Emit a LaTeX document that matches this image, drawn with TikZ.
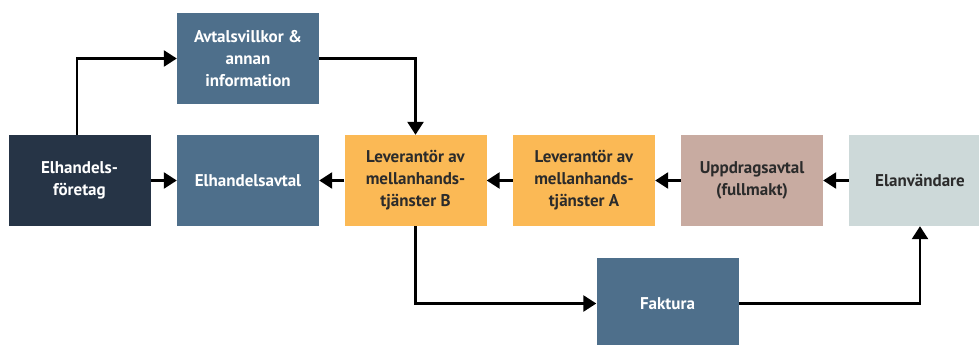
\documentclass[tikz,border=0pt]{standalone}
\usepackage{fontspec}
\setmainfont{PT Sans}
\usetikzlibrary{arrows.meta}
\definecolor{navy}{HTML}{263446}
\definecolor{steel}{HTML}{4E6F8B}
\definecolor{orangebox}{HTML}{FBB955}
\definecolor{tanbox}{HTML}{C8ABA1}
\definecolor{greybox}{HTML}{CDD9D9}
\definecolor{darktext}{HTML}{2B2B2B}
\begin{document}
\begin{tikzpicture}[x=1pt,y=-1pt,
  box/.style={minimum width=142pt,minimum height=91pt,inner sep=0pt,align=center,
    font=\fontsize{17}{22}\selectfont\bfseries},
  darkbox/.style={box,fill=navy,text=white},
  bluebox/.style={box,fill=steel,text=white},
  orbox/.style={box,fill=orangebox,text=darktext},
  tbox/.style={box,fill=tanbox,text=darktext},
  gbox/.style={box,fill=greybox,text=darktext},
  conn/.style={line width=2.6pt,-{Triangle[length=13pt,width=16pt]}}
]
\useasboundingbox (0,0) rectangle (979,345);
\node[darkbox] (foretag) at (79.5,180.5) {Elhandels-\\företag};
\node[bluebox] (avtal) at (248,180.5) {Elhandelsavtal};
\node[bluebox] (villkor) at (248,58.5) {Avtalsvillkor \&\\annan\\information};
\node[orbox] (levB) at (415.5,180.5) {Leverantör av\\mellanhands-\\tjänster \textbf{B}};
\node[orbox] (levA) at (584,180.5) {Leverantör av\\mellanhands-\\tjänster \textbf{A}};
\node[tbox] (upp) at (752,180.5) {Uppdragsavtal\\(fullmakt)};
\node[gbox] (elan) at (920,180.5) {Elanvändare};
\node[bluebox] (faktura) at (667.5,303.5) {Faktura};

\draw[conn] (foretag.north -| 77,0) |- (villkor.west);
\draw[conn] (villkor.east) -| (levB.north);
\draw[conn] (foretag) -- (avtal);
\draw[conn] (levB) -- (avtal);
\draw[conn] (levA) -- (levB);
\draw[conn] (upp) -- (levA);
\draw[conn] (elan) -- (upp);
\draw[conn] (levB.south) |- (faktura.west);
\draw[conn] (faktura.east) -| (elan.south);
\end{tikzpicture}
\end{document}
